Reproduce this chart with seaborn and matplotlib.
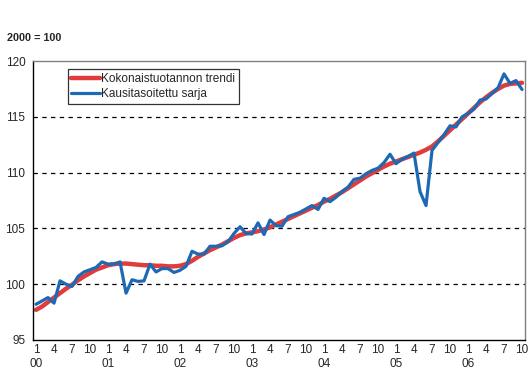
import pandas as pd
import numpy as np
import seaborn as sns
import matplotlib.pyplot as plt

# monthly series, Jan 2000 .. Oct 2006 (2000 = 100)
trend = [97.7, 98.0, 98.4, 98.8, 99.2, 99.6, 99.95, 100.35, 100.7, 101.0, 101.3, 101.5,
         101.7, 101.8, 101.85, 101.85, 101.8, 101.75, 101.7, 101.7, 101.65, 101.65, 101.6, 101.6,
         101.65, 101.8, 102.1, 102.45, 102.75, 103.05, 103.3, 103.55, 103.85, 104.15, 104.4, 104.55,
         104.65, 104.75, 104.9, 105.1, 105.35, 105.6, 105.85, 106.1, 106.35, 106.6, 106.85, 107.1,
         107.4, 107.65, 107.95, 108.25, 108.6, 108.95, 109.3, 109.65, 109.95, 110.25, 110.55, 110.8,
         111.0, 111.2, 111.4, 111.6, 111.8, 112.05, 112.35, 112.8, 113.3, 113.8, 114.3, 114.8,
         115.3, 115.8, 116.3, 116.75, 117.15, 117.5, 117.8, 117.95, 118.0, 118.05]
seasonal = [98.2, 98.5, 98.8, 98.3, 100.3, 100.0, 99.8, 100.7, 101.1, 101.3, 101.5, 102.0,
            101.8, 101.8, 102.0, 99.2, 100.4, 100.25, 100.3, 101.8, 101.1, 101.4, 101.4, 101.05,
            101.25, 101.6, 102.95, 102.7, 102.7, 103.4, 103.4, 103.45, 103.8, 104.55, 105.15, 104.55,
            104.5, 105.5, 104.45, 105.75, 105.25, 105.2, 106.05, 106.25, 106.45, 106.75, 107.05, 106.7,
            107.7, 107.4, 107.8, 108.3, 108.7, 109.4, 109.5, 109.9, 110.2, 110.4, 110.9, 111.65,
            110.8, 111.2, 111.45, 111.75, 108.3, 107.05, 112.0, 112.7, 113.4, 114.2, 114.1, 115.0,
            115.3, 115.7, 116.5, 116.6, 117.1, 117.6, 118.85, 118.0, 118.25, 117.45]
years = ["00", "01", "02", "03", "04", "05", "06"]
month_labels = ["1", "4", "7", "10"]
series_names = ["Kokonaistuotannon trendi", "Kausitasoitettu sarja"]

n = len(trend)
df = pd.DataFrame({
    "t": np.concatenate([np.arange(n), np.arange(n)]),
    "value": trend + seasonal,
    "series": [series_names[0]] * n + [series_names[1]] * n,
})

sns.set_style("white")
plt.rcParams["font.family"] = ["Liberation Sans", "DejaVu Sans"]

fig = plt.figure(figsize=(5.30, 3.84), dpi=100)
ax = fig.add_axes([0.0623, 0.1146, 0.9283, 0.7264])

sns.lineplot(data=df, x="t", y="value", hue="series", size="series",
             sizes={series_names[0]: 3.2, series_names[1]: 2.3},
             palette={series_names[0]: "#E03C3C", series_names[1]: "#1E69B3"},
             ax=ax, legend=True)

ax.set_xlim(-0.25, 81.5)
ax.set_ylim(95, 120)
ax.set_yticks([95, 100, 105, 110, 115, 120])
ax.set_yticklabels(["95", "100", "105", "110", "115", "120"], fontsize=8.5)

# dashed grid
for g in [100, 105, 110, 115]:
    ax.axhline(g, color="black", lw=0.9, ls=(0, (3.5, 3.5)), zorder=0)

# x ticks
pos, labs = [], []
for i in range(0, n, 3):
    pos.append(i)
    lab = month_labels[(i % 12) // 3]
    if i % 12 == 0:
        lab = lab + "\n" + years[i // 12]
    labs.append(lab)
ax.set_xticks(pos)
ax.set_xticklabels(labs, fontsize=8.5, linespacing=1.15, va="top")
ax.set_xticks(np.arange(-0.5, n + 0.5, 1), minor=True)
ax.tick_params(axis="x", which="major", length=0, pad=3)
ax.tick_params(axis="x", which="minor", length=3, width=0.8, direction="out", color="black")
ax.tick_params(axis="y", length=4, width=0.8, direction="out", color="black", pad=1.5)
ax.set_xlabel("")
ax.set_ylabel("")

for s in ["left", "bottom"]:
    ax.spines[s].set_color("black")
    ax.spines[s].set_linewidth(1.0)
for s in ["top", "right"]:
    ax.spines[s].set_color("#808080")
    ax.spines[s].set_linewidth(1.0)

leg = ax.legend(loc="upper left", bbox_to_anchor=(0.071, 0.971), borderaxespad=0,
                fontsize=8.5, frameon=True, fancybox=False, handlelength=2.4,
                handletextpad=0.1, borderpad=0.3, labelspacing=0.3)
leg.get_frame().set_edgecolor("black")
leg.get_frame().set_linewidth(0.9)

fig.text(0.013, 0.901, "2000 = 100", fontsize=7.8, fontweight="bold", va="center", ha="left")

fig.savefig("out.png", dpi=100, facecolor="white")
